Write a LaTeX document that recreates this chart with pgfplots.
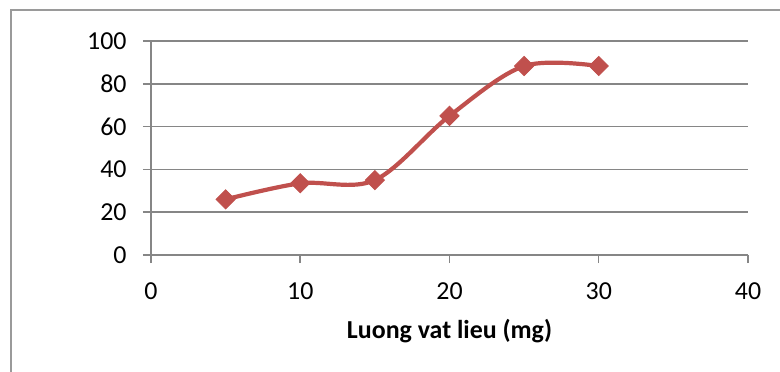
\documentclass[border=0pt]{standalone}
\usepackage{pgfplots}
\pgfplotsset{compat=1.18}
\usepackage{fontspec}
\setmainfont{Carlito}
\definecolor{seriesred}{HTML}{C0504D}
\definecolor{gridgray}{HTML}{868686}
\definecolor{framegray}{HTML}{9A9A9A}
\begin{document}
\begin{tikzpicture}
\useasboundingbox (-75.5bp,-58.5bp) rectangle (314.5bp,127.5bp);
% chart area frame
\draw[framegray, line width=0.75bp] (-70bp,-70bp) -- (-70bp,122.5bp) -- (330bp,122.5bp);
\begin{axis}[
  scale only axis,
  width=298.5bp, height=107bp,
  xmin=0, xmax=40, ymin=0, ymax=100,
  xtick={0,10,...,40}, ytick={0,20,...,100},
  axis x line*=bottom, axis y line*=left,
  axis line style={gridgray, line width=0.75bp, -},
  ymajorgrids,
  major grid style={gridgray, line width=0.75bp},
  tick style={gridgray, line width=0.75bp},
  tick align=outside, major tick length=4bp,
  font=\fontsize{13}{15.5}\selectfont,
  ticklabel style={font=\fontsize{13}{15.5}\selectfont, inner sep=0pt},
  xticklabel style={anchor=north, yshift=-9.5bp},
  yticklabel style={anchor=east, xshift=-8bp},
  /pgf/number format/assume math mode=true,
  xlabel={\textbf{Luong vat lieu (mg)}},
  xlabel style={at={(axis description cs:0.5,0)}, anchor=base, yshift=-41.5bp, inner sep=0pt},
  clip=false,
]
\addplot[seriesred, line width=2.1bp, smooth, tension=0.55,
  mark=square*, mark size=3.4bp,
  mark options={solid, rotate=45, fill=seriesred, draw=seriesred, line width=0.4pt}]
  coordinates {(5,26) (10,33.5) (15,35) (20,65) (25,88.3) (30,88.3)};
\end{axis}
\end{tikzpicture}
\end{document}
